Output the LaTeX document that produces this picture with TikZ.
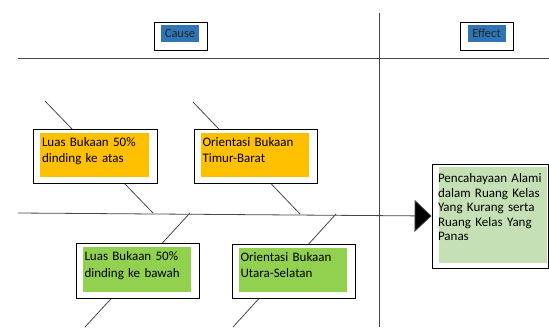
\documentclass[tikz,border=0pt]{standalone}
\usepackage{fontspec}
\setmainfont{Carlito}
\usetikzlibrary{arrows.meta}
\definecolor{gold}{HTML}{FFC000}
\definecolor{leaf}{HTML}{92D050}
\definecolor{pale}{HTML}{C5E0B4}
\definecolor{hilite}{HTML}{2F75B5}
\begin{document}
\begin{tikzpicture}[x=1pt,y=-1pt,
  bone/.style={draw=black!72, line width=0.8pt},
  causebox/.style={draw=black, line width=0.8pt, fill=white, inner sep=0pt,
    minimum height=54pt, minimum width=123pt, text width=106pt, align=left,
    text depth=28.4pt,
    font=\fontsize{13}{16.5}\selectfont,
    path picture={\fill[#1] ([xshift=7pt,yshift=-4pt]path picture bounding box.north west)
      rectangle ([xshift=-8pt,yshift=6pt]path picture bounding box.south east);}},
  headbox/.style={draw=black, line width=0.8pt, minimum width=53pt, minimum height=28pt, inner sep=0pt},
  headlbl/.style={fill=hilite, minimum width=38pt, minimum height=17pt, inner sep=0pt,
    font=\fontsize{12.5}{14}\selectfont, text=black!85},
]
\useasboundingbox (0,0) rectangle (549,327);
% frame lines
\coordinate (tl) at (18,58);
\coordinate (tr) at (549,58);
\coordinate (vt) at (379,13);
\coordinate (vb) at (379,327);
\draw[bone] (tl) -- (tr);
\draw[bone] (vt) -- (vb);
% headers
\node[headbox] (cause) at (180.5,36) {};
\node[headlbl] (causelbl) at (180,33.5) {Cause};
\node[headbox] (effhead) at (486.5,36.5) {};
\node[headlbl] (effheadlbl) at (486.5,33.5) {Effect};
% bones
\coordinate (a1) at (45,101);
\coordinate (s1) at (153,213);
\coordinate (a2) at (193,102);
\coordinate (s2) at (300,214);
\coordinate (s3) at (190,213);
\coordinate (e3) at (85,327);
\coordinate (s4) at (336,214);
\coordinate (e4) at (233,327);
\draw[bone] (a1) -- (s1);
\draw[bone] (a2) -- (s2);
\draw[bone] (s3) -- (e3);
\draw[bone] (s4) -- (e4);
% cause boxes
\node[causebox=gold, minimum width=124pt] (b1) at (95,156) {Luas Bukaan 50\%\\dinding ke atas};
\node[causebox=gold] (b2) at (255.5,156) {Orientasi Bukaan\\Timur-Barat};
\node[causebox=leaf, minimum height=55pt] (b3) at (137.5,270.5) {Luas Bukaan 50\%\\dinding ke bawah};
\node[causebox=leaf] (b4) at (293.5,271) {Orientasi Bukaan\\Utara-Selatan};
% effect box
\node[draw=black, line width=0.8pt, fill=white, inner sep=0pt, minimum width=116pt, minimum height=104pt,
  text width=104pt, align=left, text depth=75.6pt, font=\fontsize{13}{14.5}\selectfont,
  path picture={\fill[pale] ([xshift=7pt,yshift=-3pt]path picture bounding box.north west)
      rectangle ([xshift=-1pt,yshift=5pt]path picture bounding box.south east);}]
  (eff) at (490,216) {Pencahayaan Alami\\dalam Ruang Kelas\\Yang Kurang serta\\Ruang Kelas Yang\\Panas};
% spine
\coordinate (sp) at (18,213);
\draw[bone, -{Triangle[length=17pt,width=32pt,fill=black]}] (sp) -- (eff.west);
\end{tikzpicture}
\end{document}
